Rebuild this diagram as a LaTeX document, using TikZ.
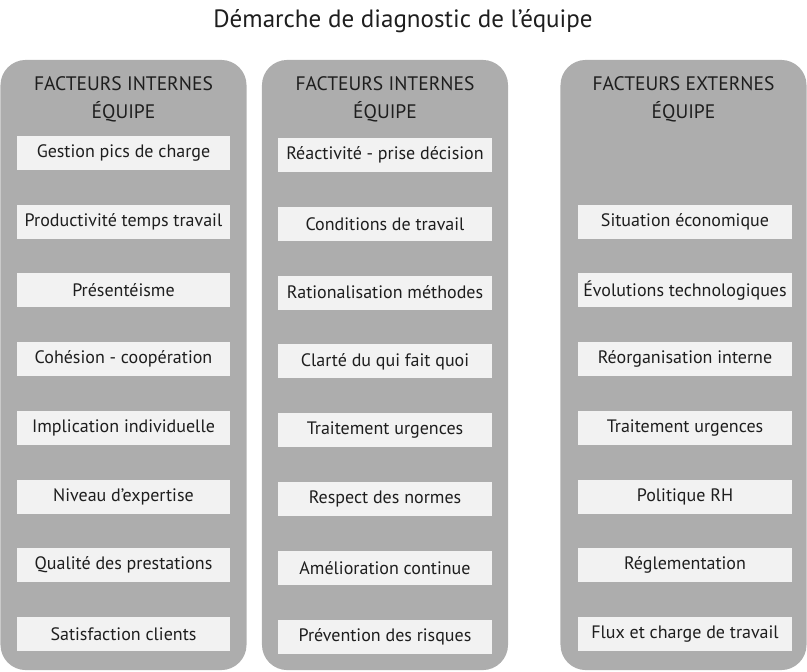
\documentclass[tikz,border=0pt]{standalone}
\usepackage{fontspec}
\setmainfont{PT Sans}
\definecolor{colgray}{HTML}{ADADAD}
\definecolor{boxfill}{HTML}{F2F2F2}
\definecolor{txtdark}{HTML}{1E1E1E}
\usetikzlibrary{positioning}

\begin{document}
\begin{tikzpicture}[x=0.025cm, y=-0.025cm,
  colbox/.style={fill=colgray, rounded corners=18pt, minimum width=6.15cm, minimum height=15.25cm, inner sep=0pt},
  factor/.style={fill=boxfill, minimum width=5.33cm, minimum height=0.85cm, inner sep=0pt, font=\fontsize{12.8}{14}\selectfont, text=txtdark},
  header/.style={font=\fontsize{13.9}{20}\selectfont, align=center, text=txtdark}]
  \useasboundingbox (0,0) rectangle (807,671);
  % title
  \node[font=\fontsize{17.8}{21}\selectfont, text=txtdark] (title) at (403,21) {Démarche de diagnostic de l’équipe};
  % the three columns
  \node[colbox] (col1) at (123.5,365) {};
  \node[colbox] (col2) at (385,365) {};
  \node[colbox] (col3) at (683.5,365) {};
  \node[header] (head1) at (123.5,99) {FACTEURS INTERNES\\ÉQUIPE};
  \node[header] (head2) at (385,99) {FACTEURS INTERNES\\ÉQUIPE};
  \node[header] (head3) at (683.5,99) {FACTEURS EXTERNES\\ÉQUIPE};
  % internal factors, first column
  \foreach \txt [count=\i] in {Gestion pics de charge, Productivité temps travail, Présentéisme,
      Cohésion - coopération, Implication individuelle, Niveau d’expertise,
      Qualité des prestations, Satisfaction clients}
    \node[factor] (a\i) at (123.5,{153+68.7*(\i-1)}) {\txt};
  % internal factors, second column
  \foreach \txt [count=\i] in {Réactivité - prise décision, Conditions de travail, Rationalisation méthodes,
      Clarté du qui fait quoi, Traitement urgences, Respect des normes,
      Amélioration continue, Prévention des risques}
    \node[factor] (b\i) at (385,{155+68.8*(\i-1)}) {\txt};
  % external factors
  \foreach \txt [count=\i from 2] in {Situation économique, Évolutions technologiques, Réorganisation interne,
      Traitement urgences, Politique RH, Réglementation, Flux et charge de travail}
    \node[factor] (c\i) at (685,{153+68.7*(\i-1)}) {\txt};
\end{tikzpicture}
\end{document}
